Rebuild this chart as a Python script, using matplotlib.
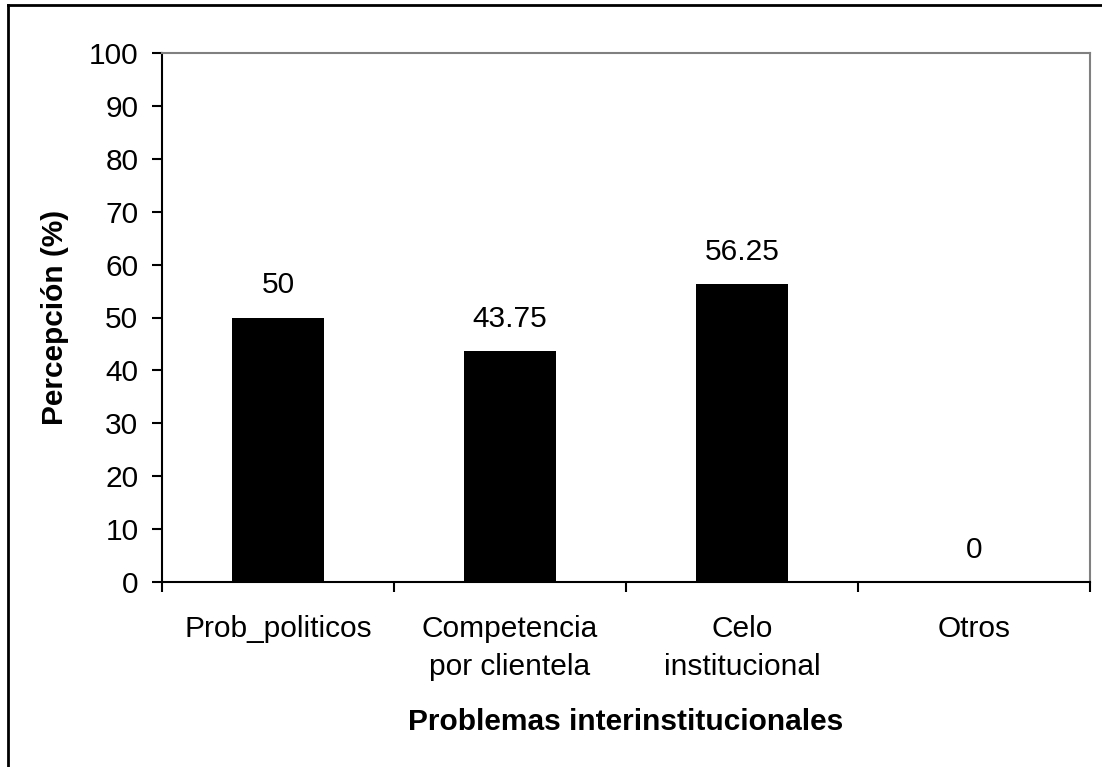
import matplotlib
matplotlib.use("Agg")
import matplotlib.pyplot as plt
from matplotlib.lines import Line2D
import numpy as np

categories = ["Prob_politicos", "Competencia\npor clientela", "Celo\ninstitucional", "Otros"]
values = [50, 43.75, 56.25, 0]
value_labels = ["50", "43.75", "56.25", "0"]
y_ticks = [0, 10, 20, 30, 40, 50, 60, 70, 80, 90, 100]

plt.rcParams['font.family'] = ['Liberation Sans', 'DejaVu Sans']
FS = 21.5

fig = plt.figure(figsize=(11.02, 7.67), dpi=100)
ax = fig.add_axes([162/1102, 1-582/767, (1090-162)/1102, (582-53)/767])

x = np.arange(len(categories))
bars = ax.bar(x, values, width=0.4, color="black", zorder=3)

ax.set_xlim(-0.5, len(categories) - 0.5)
ax.set_ylim(0, 100)
ax.set_yticks(y_ticks)
ax.tick_params(axis='y', labelsize=FS, length=7, width=1.5, pad=10, direction='out')

ax.set_xticks(x)
ax.set_xticklabels(categories, fontsize=FS, linespacing=1.45)
ax.tick_params(axis='x', which='major', length=0, pad=24)
ax.set_xticks(np.arange(-0.5, len(categories)), minor=True)
ax.tick_params(axis='x', which='minor', length=7, width=1.5, direction='out')

for s in ['left', 'bottom']:
    ax.spines[s].set_color('black')
    ax.spines[s].set_linewidth(1.5)
for s in ['top', 'right']:
    ax.spines[s].set_color('#808080')
    ax.spines[s].set_linewidth(1.5)

for xi, v, lab in zip(x, values, value_labels):
    ax.annotate(lab, (xi, v), xytext=(0, 13), textcoords='offset points',
                ha='center', va='bottom', fontsize=FS)

ax.set_ylabel("Percepción (%)", fontsize=FS, fontweight='bold', labelpad=14)
ax.set_xlabel("Problemas interinstitucionales", fontsize=FS, fontweight='bold', labelpad=19)

# outer frame (top and left visible)
fig.add_artist(Line2D([8/1102, 8/1102], [0, 1-5/767], transform=fig.transFigure, color='black', lw=2))
fig.add_artist(Line2D([8/1102, 1], [1-5/767, 1-5/767], transform=fig.transFigure, color='black', lw=2))

fig.savefig("out.png", dpi=100)
